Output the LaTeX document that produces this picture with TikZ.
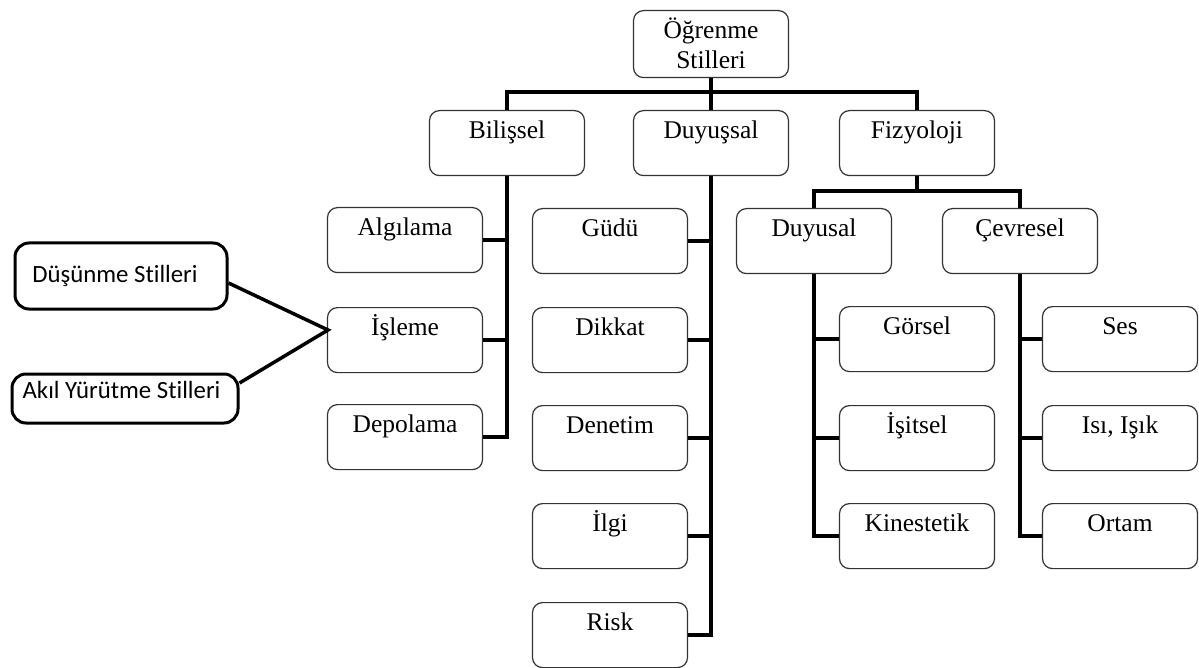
\documentclass[tikz,border=0pt]{standalone}
\usepackage{fontspec}
\setmainfont{Liberation Serif}
\newfontfamily\calibri[Ligatures=NoCommon]{Carlito}
\begin{document}
\begin{tikzpicture}[x=1pt,y=-1pt,
  box/.style={draw=black!80, line width=1.2pt, rounded corners=10pt,
    minimum width=155pt, inner xsep=0pt, inner ysep=0pt,
    text height=28pt, text depth=37pt, anchor=north,
    font=\fontsize{25.5}{30}\selectfont},
  sidebox/.style={draw=black, line width=3pt, rounded corners=14pt,
    inner xsep=0pt, inner ysep=0pt,
    font=\calibri\fontsize{24.8}{29}\selectfont},
  conn/.style={line width=4.5pt, black},
  link/.style={line width=3.5pt, black, line join=miter}]
\useasboundingbox (0,0) rectangle (1199,668);

% root and first level
\node[box, align=center, text height=58pt, text depth=9pt] (root) at (711,10) {Öğrenme\\Stilleri};
\node[box] (bil) at (507,110) {Bilişsel};
\node[box] (duy) at (711,110) {Duyuşsal};
\node[box] (fiz) at (917,110) {Fizyoloji};

% Bilişsel branch
\node[box] (alg) at (405,207) {Algılama};
\node[box] (isl) at (405,307) {İşleme};
\node[box] (dep) at (405,404) {Depolama};

% Duyuşsal branch
\node[box] (gud) at (610,208) {Güdü};
\node[box] (dik) at (610,307) {Dikkat};
\node[box] (den) at (610,405) {Denetim};
\node[box] (ilg) at (610,503) {İlgi};
\node[box] (ris) at (610,602) {Risk};

% Fizyoloji branch
\node[box] (dys) at (814,208) {Duyusal};
\node[box] (cev) at (1020,208) {Çevresel};
\node[box] (gor) at (917,306) {Görsel};
\node[box] (isi) at (917,405) {İşitsel};
\node[box] (kin) at (917,503) {Kinestetik};
\node[box] (ses) at (1120,306) {Ses};
\node[box] (isk) at (1120,405) {Isı, Işık};
\node[box] (ort) at (1120,503) {Ortam};

% side notes (text sits a little left of centre)
\node[sidebox, minimum width=212pt, minimum height=66pt,
  text height=40pt, text depth=26pt] (dus) at (121,276) {\kern-12pt Düşünme Stilleri};
\node[sidebox, minimum width=226pt, minimum height=49pt,
  text height=24pt, text depth=25pt] (akil) at (125,398.5) {\kern-7pt Akıl Yürütme Stilleri};
\coordinate (joint) at (328,330);

% tree connectors
\draw[conn] (root.south) -- (duy.north);
\draw[conn] (bil.north) |- (fiz.north |- 0,92) -- (fiz.north);

\draw[conn] (alg.east) -- (alg.east -| bil.south);
\draw[conn] (isl.east) -- (isl.east -| bil.south);
\draw[conn] (bil.south) |- (dep.east);

\draw[conn] (gud.east) -- (gud.east -| duy.south);
\draw[conn] (dik.east) -- (dik.east -| duy.south);
\draw[conn] (den.east) -- (den.east -| duy.south);
\draw[conn] (ilg.east) -- (ilg.east -| duy.south);
\draw[conn] (duy.south) |- (ris.east);

\draw[conn] (fiz.south) -- (fiz.south |- 0,191);
\draw[conn] (dys.north) |- (cev.north |- 0,191) -- (cev.north);

\draw[conn] (gor.west) -- (gor.west -| dys.south);
\draw[conn] (isi.west) -- (isi.west -| dys.south);
\draw[conn] (dys.south) |- (kin.west);

\draw[conn] (ses.west) -- (ses.west -| cev.south);
\draw[conn] (isk.west) -- (isk.west -| cev.south);
\draw[conn] (cev.south) |- (ort.west);

% side note links
\draw[link] ([yshift=-7pt]dus.east) -- (joint) -- ([yshift=15.5pt]akil.east);
\end{tikzpicture}
\end{document}
